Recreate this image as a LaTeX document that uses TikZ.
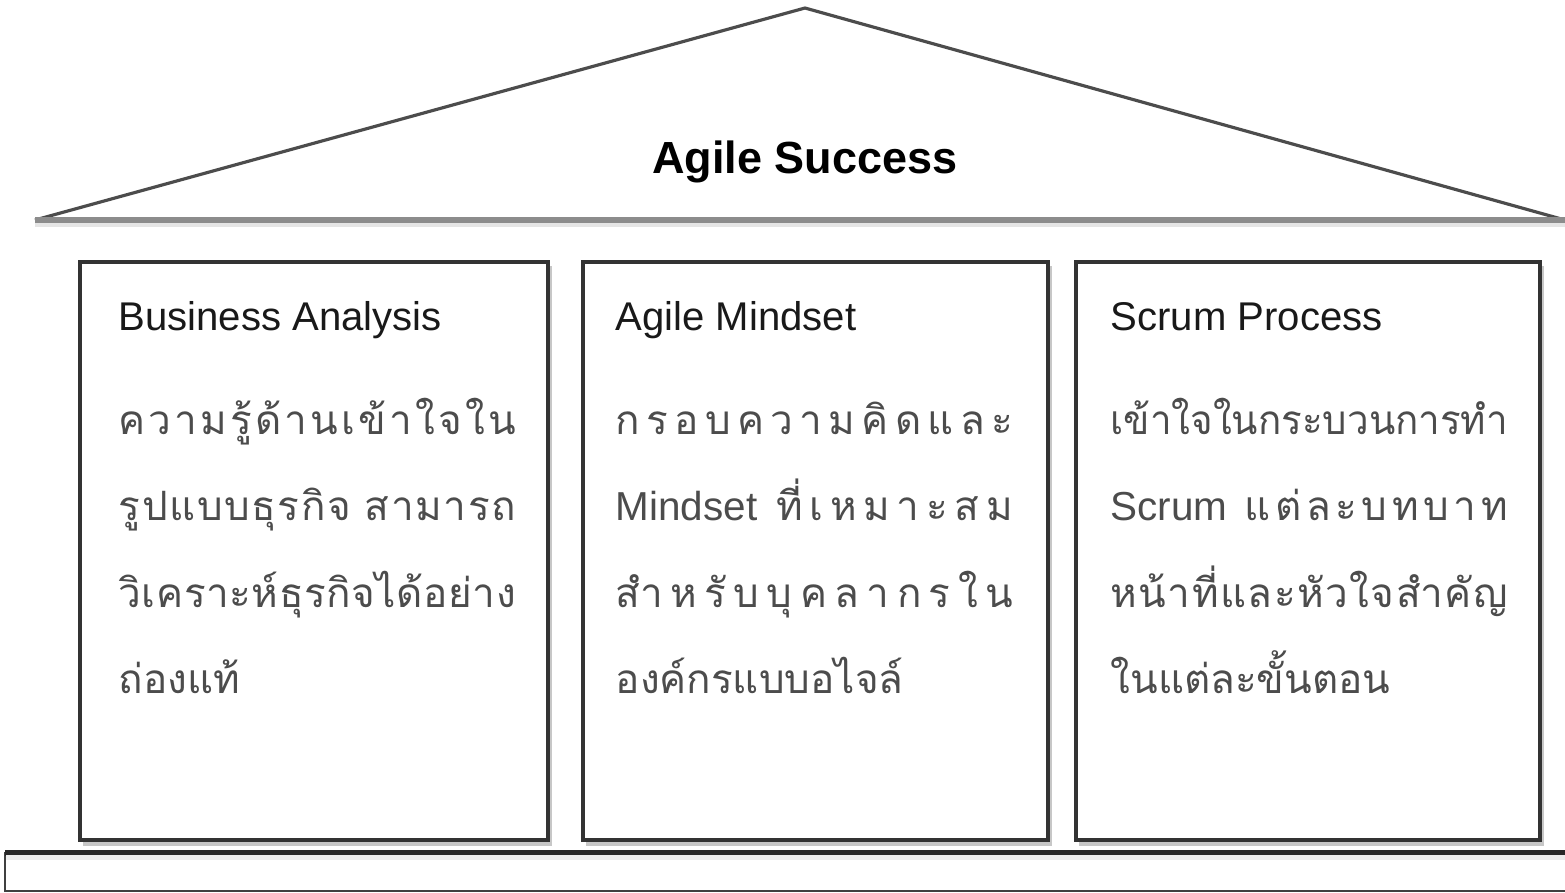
\documentclass[tikz,border=0pt]{standalone}
\usepackage{graphicx}
\usepackage{fontspec}
\setmainfont{Liberation Sans}
\newfontfamily\thaifont[Script=Thai]{Loma}
\usetikzlibrary{positioning}
\newsavebox\linebox
\newcommand{\spread}[1]{\sbox\linebox{\spaceskip=0pt plus 1fil #1}%
  \ifdim\wd\linebox>3.97cm \resizebox{3.97cm}{\height}{\usebox\linebox}%
  \else\makebox[3.97cm][s]{\spaceskip=0pt plus 1fil #1}\fi}
\newcommand{\wsp}{\hspace{0.3em plus 1fil}}

\begin{document}
\begin{tikzpicture}[x=0.01cm,y=-0.01cm,
    pillar/.style={draw=black!80,line width=1.1pt,fill=white,inner sep=0pt,minimum height=5.78cm},
    shade/.style={fill=black!22},
    head/.style={anchor=base west,inner sep=0pt,text=black!90,font=\fontsize{11.4}{13}\selectfont},
    body/.style={anchor=base west,inner sep=0pt,text=black!70,font=\thaifont\fontsize{11.5}{14}\selectfont}]
    \useasboundingbox (0,0) rectangle (1565,893);
    % roof
    \coordinate (apex) at (805,8);
    \coordinate (eaveL) at (35,220);
    \coordinate (eaveR) at (1565,220);
    \fill[black!10] (35,222) rectangle (1565,227);
    \draw[black!70,line width=0.9pt] (eaveL)--(apex)--(eaveR);
    \draw[black!45,line width=1.5pt] (eaveL)--(eaveR);
    \node[anchor=base,inner sep=0pt,font=\bfseries\fontsize{12.8}{15}\selectfont] (roof) at (805,173) {Agile Success};
    % pillars
    \fill[shade] (83,266) rectangle (552,846);
    \fill[shade] (586,266) rectangle (1052,846);
    \fill[shade] (1079,266) rectangle (1544,846);
    \node[pillar,minimum width=4.68cm] (ba) at (314,551) {};
    \node[pillar,minimum width=4.65cm] (am) at (815.5,551) {};
    \node[pillar,minimum width=4.64cm] (sp) at (1308,551) {};
    \node[head] (baT) at (118,330) {Business Analysis};
    \node[head] (amT) at (615,330) {Agile Mindset};
    \node[head] (spT) at (1110,330) {Scrum Process};
    % pillar texts, one node per line
    \foreach \t [count=\i] in {{\spread{ค ว า ม รู้ ด้ า น เ ข้ า ใ จ ใ น}},
        {\spread{รู ป แ บ บ ธุ ร กิ จ\wsp ส า ม า ร ถ}},
        {\spread{วิ เ ค ร า ะ ห์ ธุ ร กิ จ ไ ด้ อ ย่ า ง}},
        {ถ่องแท้}}
        \node[body] (ba\i) at (118,{434+86.5*(\i-1)}) {\t};
    \foreach \t [count=\i] in {{\spread{ก ร อ บ ค ว า ม คิ ด แ ล ะ}},
        {\spread{{\rmfamily Mindset}\wsp ที่ เ ห ม า ะ ส ม}},
        {\spread{สำ ห รั บ บุ ค ล า ก ร ใ น}},
        {องค์กรแบบอไจล์}}
        \node[body] (am\i) at (615,{434+86.5*(\i-1)}) {\t};
    \foreach \t [count=\i] in {{\spread{เ ข้ า ใ จ ใ น ก ร ะ บ ว น ก า ร ทำ}},
        {\spread{{\rmfamily Scrum}\wsp แ ต่ ล ะ บ ท บ า ท}},
        {\spread{ห น้ า ที่ แ ล ะ หั ว ใ จ สำ คั ญ}},
        {ในแต่ละขั้นตอน}}
        \node[body] (sp\i) at (1110,{434+86.5*(\i-1)}) {\t};
    % foundation
    \draw[black!75,line width=0.8pt] (5,853) rectangle (1575,891);
    \draw[black!85,line width=1.6pt] (5,853)--(1575,853);
    \fill[black!8] (6,855) rectangle (1575,860);
\end{tikzpicture}
\end{document}
